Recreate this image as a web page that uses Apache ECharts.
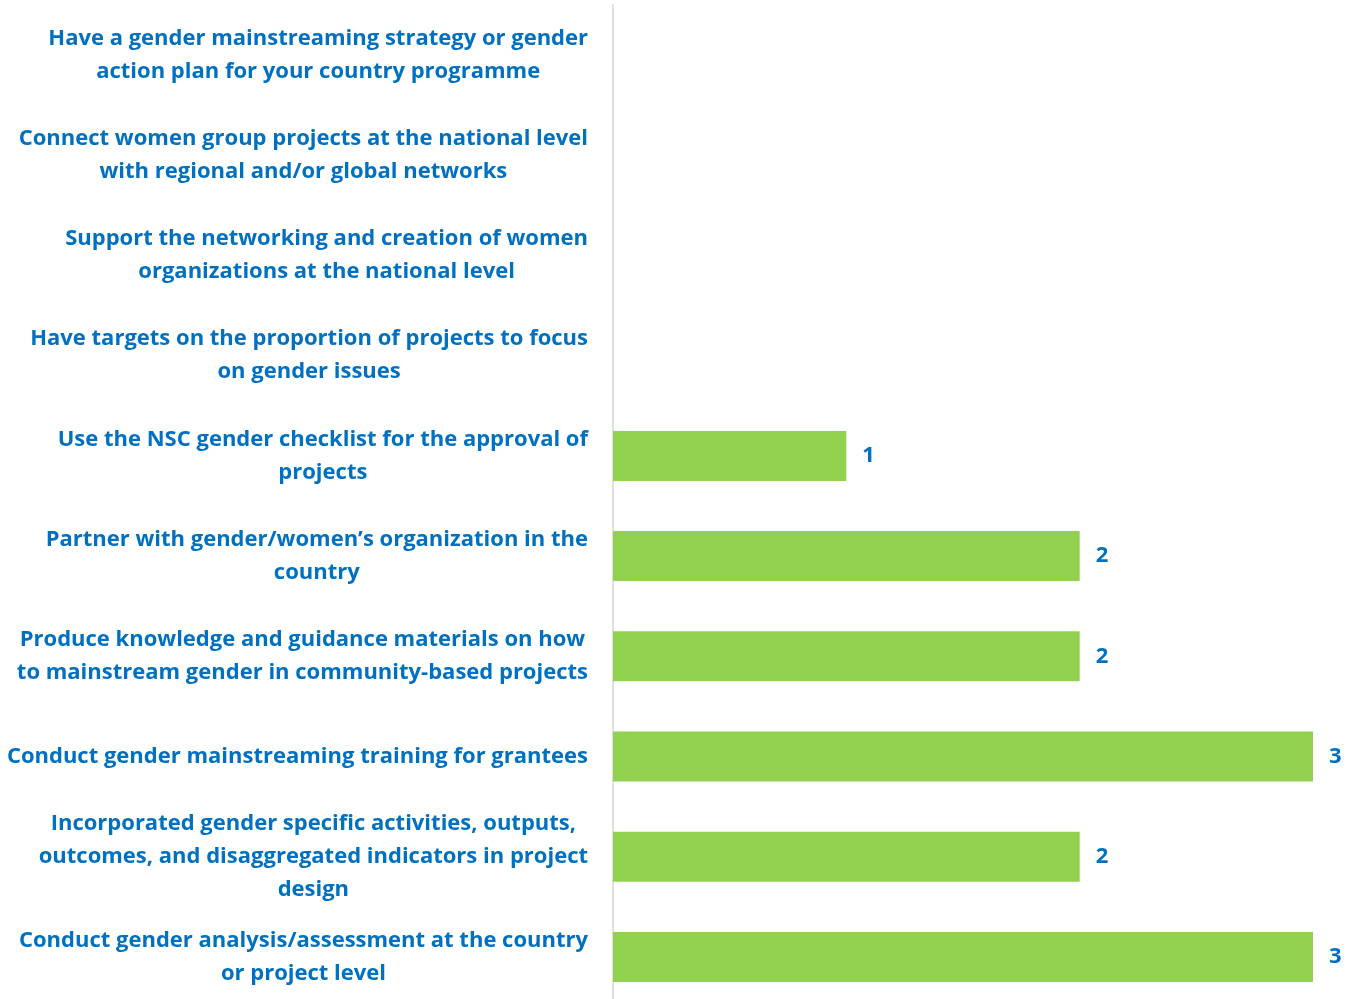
<!DOCTYPE html>
<html>
<head>
<meta charset="utf-8">
<script src="https://cdn.jsdelivr.net/npm/echarts@6/dist/echarts.min.js"></script>
<style>
  html, body { margin: 0; padding: 0; background: #fff; }
  #container { width: 1354px; height: 999px; }
</style>
</head>
<body>
<div id="container"></div>
<script>
// top to bottom
var categories = [
    'Have a gender mainstreaming strategy or gender\naction plan for your country programme',
    'Connect women group projects at the national level\nwith regional and/or global networks',
    'Support the networking and creation of women\norganizations at the national level',
    'Have targets on the proportion of projects to focus\non gender issues',
    'Use the NSC gender checklist for the approval of\nprojects',
    'Partner with gender/women\u2019s organization in the\ncountry',
    'Produce knowledge and guidance materials on how\nto mainstream gender in community-based projects',
    'Conduct gender mainstreaming training for grantees',
    'Incorporated gender specific activities, outputs,\noutcomes, and disaggregated indicators in project\ndesign',
    'Conduct gender analysis/assessment at the country\nor project level'
];
var counts = [0, 0, 0, 0, 1, 2, 2, 3, 2, 3];

var blue = '#0070C0';
var fontFamily = '"Open Sans"';

var chart = echarts.init(document.getElementById('container'));
chart.setOption({
    animation: false,
    grid: {
        left: 613,
        right: 41,
        top: 5,
        height: 1002,
        outerBoundsMode: 'none',
        containLabel: false
    },
    xAxis: {
        type: 'value',
        min: 0,
        max: 3,
        show: false
    },
    yAxis: {
        type: 'category',
        inverse: true,
        data: categories,
        axisLine: { show: true, lineStyle: { color: '#dde0e6', width: 2 } },
        axisTick: { show: false },
        splitLine: { show: false },
        axisLabel: {
            margin: 25,
            align: 'right',
            formatter: function (v) {
                return '{c|' + v + '}';
            },
            rich: {
                c: {
                    align: 'center',
                    color: blue,
                    fontFamily: fontFamily,
                    fontWeight: 'bold',
                    fontSize: 22,
                    lineHeight: 33
                }
            }
        }
    },
    series: [{
        type: 'bar',
        data: counts,
        barWidth: 50,
        itemStyle: { color: '#92D050' },
        label: {
            show: true,
            position: 'right',
            distance: 16,
            color: blue,
            fontFamily: fontFamily,
            fontWeight: 'bold',
            fontSize: 22,
            formatter: function (p) {
                return p.value ? String(p.value) : '';
            }
        }
    }]
});
</script>
</body>
</html>
